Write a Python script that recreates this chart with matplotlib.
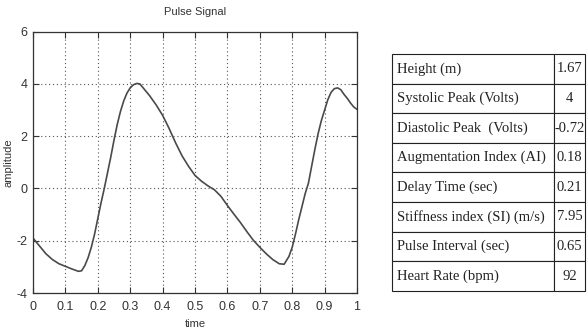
import matplotlib
matplotlib.use("Agg")
import matplotlib.pyplot as plt

time = [0.00, 0.02, 0.04, 0.06, 0.08, 0.10, 0.12, 0.14, 0.15, 0.16, 0.17, 0.18, 0.19,
        0.20, 0.21, 0.22, 0.23, 0.24, 0.25, 0.26, 0.27, 0.28, 0.29, 0.30, 0.31, 0.32,
        0.33, 0.34, 0.36, 0.38, 0.40, 0.42, 0.44, 0.46, 0.48, 0.50, 0.52, 0.54, 0.56,
        0.58, 0.60, 0.62, 0.64, 0.66, 0.68, 0.70, 0.72, 0.74, 0.76, 0.775, 0.79, 0.80,
        0.81, 0.82, 0.83, 0.84, 0.85, 0.86, 0.87, 0.88, 0.89, 0.90, 0.91, 0.92, 0.93,
        0.94, 0.95, 0.96, 0.97, 0.98, 0.99, 1.00]
amplitude = [-1.90, -2.20, -2.50, -2.72, -2.88, -2.98, -3.08, -3.17, -3.15, -2.95, -2.65,
             -2.25, -1.75, -1.15, -0.55, 0.00, 0.60, 1.20, 1.85, 2.45, 2.95, 3.35, 3.65,
             3.85, 3.97, 4.02, 4.00, 3.85, 3.55, 3.20, 2.80, 2.30, 1.75, 1.25, 0.85, 0.50,
             0.28, 0.10, -0.05, -0.30, -0.65, -0.98, -1.30, -1.65, -1.98, -2.25, -2.50,
             -2.72, -2.88, -2.90, -2.60, -2.25, -1.75, -1.20, -0.70, -0.20, 0.20, 0.85,
             1.50, 2.10, 2.60, 3.00, 3.40, 3.68, 3.82, 3.85, 3.78, 3.60, 3.45, 3.27, 3.12,
             3.03]

xticks = [0, 0.1, 0.2, 0.3, 0.4, 0.5, 0.6, 0.7, 0.8, 0.9, 1]
xticklabels = ["0", "0.1", "0.2", "0.3", "0.4", "0.5", "0.6", "0.7", "0.8", "0.9", "1"]
yticks = [-4, -2, 0, 2, 4, 6]
yticklabels = ["-4", "-2", "0", "2", "4", "6"]

param_names = ["Height (m)", "Systolic Peak (Volts)", "Diastolic Peak  (Volts)",
               "Augmentation Index (AI)", "Delay Time (sec)", "Stiffness index (SI) (m/s)",
               "Pulse Interval (sec)", "Heart Rate (bpm)"]
param_values = ["1.67", "4", "-0.72", "0.18", "0.21", "7.95", "0.65", "92"]

W, H = 588, 334
fig = plt.figure(figsize=(W / 100, H / 100), dpi=100)
fig.patch.set_facecolor("white")

sans = ["Liberation Sans", "DejaVu Sans"]

ax = fig.add_axes([33 / W, (H - 293) / H, (357 - 33) / W, (293 - 31.7) / H])
ax.plot(time, amplitude, color="#4a4a4a", lw=1.2)
ax.set_xlim(0, 1)
ax.set_ylim(-4, 6)
ax.set_xticks(xticks)
ax.set_xticklabels(xticklabels, family=sans, fontsize=9, color="#333333")
ax.set_yticks(yticks)
ax.set_yticklabels(yticklabels, family=sans, fontsize=9, color="#333333")
ax.tick_params(direction="in", top=True, right=True, length=4, width=0.8, color="#333333")
ax.tick_params(axis="x", pad=6)
ax.tick_params(axis="y", pad=4)
ax.grid(True, linestyle=(0, (1, 2.5)), color="#555555", lw=0.8)
for s in ax.spines.values():
    s.set_color("#333333")
    s.set_linewidth(0.9)
ax.set_title("Pulse Signal", family=sans, fontsize=8, color="#333333", pad=12)
ax.set_xlabel("time", family=sans, fontsize=8, color="#333333", labelpad=4)
ax.set_ylabel("amplitude", family=sans, fontsize=8, color="#333333", labelpad=2)

# table
tx0, tx1, tx2 = 391.7, 554.3, 585.0
ty0, ty1 = 54.0, 291.0
tax = fig.add_axes([tx0 / W, (H - ty1) / H, (tx2 - tx0) / W, (ty1 - ty0) / H])
tax.axis("off")
tbl = tax.table(cellText=[[n, v] for n, v in zip(param_names, param_values)],
                colWidths=[(tx1 - tx0) / (tx2 - tx0), (tx2 - tx1) / (tx2 - tx0)],
                cellLoc="left", bbox=[0, 0, 1, 1])
tbl.auto_set_font_size(False)
for (r, c), cell in tbl.get_celld().items():
    cell.set_linewidth(0.8)
    cell.set_edgecolor("#222222")
    t = cell.get_text()
    if c == 0:
        cell.PAD = 0.035
    else:
        cell.PAD = 0.02
        t.set_horizontalalignment("center")
        cell._loc = "center"
    t.set_fontfamily(["Liberation Serif", "DejaVu Serif"])
    t.set_fontsize(10.5)
    t.set_color("#222222")

fig.savefig("out.png", dpi=100)
